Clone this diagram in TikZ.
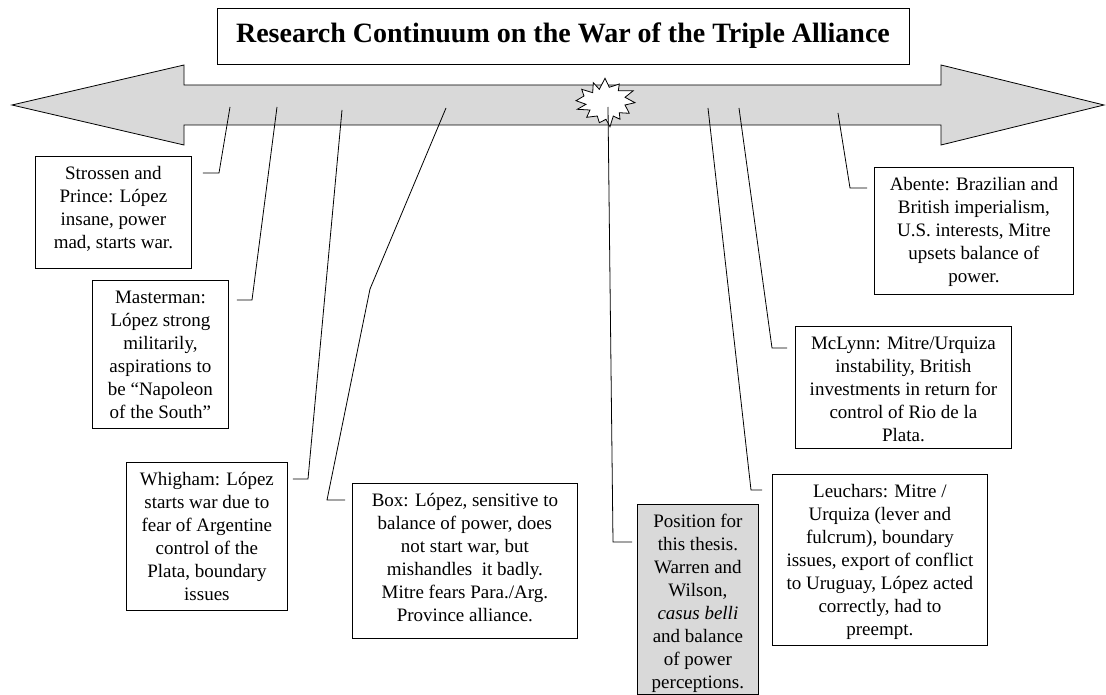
\documentclass[tikz,border=0pt]{standalone}
\usepackage{fontspec}
\setmainfont{Liberation Serif}
\usetikzlibrary{calc}
\definecolor{shaftgray}{RGB}{217,217,217}
\newcommand{\bxt}[3]{\parbox[c][#2][t]{#1}{\centering\rule{0pt}{23pt}#3}}
\tikzset{
  bx/.style={draw=black, line width=0.8pt, fill=white, inner sep=0pt, anchor=north west,
    font=\fontsize{19}{23}\selectfont},
  gbx/.style={bx, fill=shaftgray},
  leader/.style={draw=black, line width=0.8pt},
}
\begin{document}
\begin{tikzpicture}[x=1pt,y=-1pt]
\useasboundingbox (0,0) rectangle (1106,695);
\fill[white] (0,0) rectangle (1106,695);
% title
\node[draw=black, line width=0.8pt, minimum width=692pt, minimum height=56pt, inner sep=0pt,
  font=\fontsize{28}{32}\selectfont\bfseries] (title) at (563,36) {Research Continuum on the War of the Triple Alliance};
% double arrow
\draw[line width=0.8pt, fill=shaftgray] (12,105) -- (184,65) -- (184,85) -- (941,85) -- (941,65)
  -- (1104,105) -- (941,145) -- (941,125) -- (184,125) -- (184,145) -- cycle;
% explosion
\draw[line width=0.8pt, fill=white] (593.3,82.7) -- (599.3,89.3) -- (605,78.3) -- (609.3,87.3)
  -- (619.3,84) -- (618.3,90.7) -- (633.3,90.7) -- (625,97.3) -- (635,102.7) -- (625,105)
  -- (629.3,113.3) -- (619.3,112.7) -- (620,119.3) -- (613.3,116) -- (610,126.7) -- (606,119.3)
  -- (599.3,122.7) -- (597.3,116) -- (586.7,117.3) -- (590,110) -- (577.3,109.3) -- (586,104.3)
  -- (576,100.7) -- (584,96) -- (581.7,89.3) -- (592.7,92.7) -- cycle;
% boxes
\node[bx] (strossen) at (35,156) {\bxt{156pt}{112pt}{Strossen and\\Prince: López\\insane, power\\mad, starts war.}};
\node[bx] (masterman) at (92,280) {\bxt{136pt}{148pt}{Masterman:\\López strong\\militarily,\\aspirations to\\be “Napoleon\\of the South”}};
\node[bx] (whigham) at (126,462) {\bxt{161pt}{148pt}{Whigham: López\\starts war due to\\fear of Argentine\\control of the\\Plata, boundary\\issues}};
\node[bx] (boxb) at (352,483) {\bxt{225pt}{155pt}{Box: López, sensitive to\\balance of power, does\\not start war, but\\mishandles\ \ it badly.\\Mitre fears Para./Arg.\\Province alliance.}};
\node[gbx] (position) at (637,504) {\bxt{121pt}{190pt}{Position for\\this thesis.\\Warren and\\Wilson,\\\textit{casus belli}\\and balance\\of power\\perceptions.}};
\node[bx] (leuchars) at (772,474) {\bxt{215pt}{171pt}{Leuchars: Mitre /\\Urquiza (lever and\\fulcrum), boundary\\issues, export of conflict\\to Uruguay, López acted\\correctly, had to\\preempt.}};
\node[bx] (mclynn) at (795,326) {\bxt{216pt}{122pt}{McLynn: Mitre/Urquiza\\instability, British\\investments in return for\\control of Rio de la\\Plata.}};
\node[bx] (abente) at (874,167) {\bxt{199pt}{127pt}{Abente: Brazilian and\\British imperialism,\\U.S. interests, Mitre\\upsets balance of\\power.}};
% anchor points on the arrow
\coordinate (pS) at (230,107);
\coordinate (pM) at (277,107);
\coordinate (pW) at (342,110);
\coordinate (pB) at (446,108);
\coordinate (pP) at (608,107);
\coordinate (pL) at (708,108);
\coordinate (pC) at (739,108);
\coordinate (pA) at (838,113);
% kinks
\coordinate (kS) at (219,173);
\coordinate (kM) at (252,300);
\coordinate (kW) at (308,479);
\coordinate (kB1) at (370,289);
\coordinate (kB) at (327,500);
\coordinate (kP) at (613,542);
\coordinate (kL) at (751,490);
\coordinate (kC) at (772,348);
\coordinate (kA) at (850,188);
% leaders
\draw[leader] (pS) -- (kS) -- ($(strossen.east |- kS)+(11,0)$);
\draw[leader] (pM) -- (kM) -- ($(masterman.east |- kM)+(8,0)$);
\draw[leader] (pW) -- (kW) -- ($(whigham.east |- kW)+(5,0)$);
\draw[leader] (pB) -- (kB1) -- (kB) -- ($(boxb.west |- kB)+(-7,0)$);
\draw[leader] (pP) -- (kP) -- ($(position.west |- kP)+(-5,0)$);
\draw[leader] (pL) -- (kL) -- ($(leuchars.west |- kL)+(-10,0)$);
\draw[leader] (pC) -- (kC) -- ($(mclynn.west |- kC)+(-8,0)$);
\draw[leader] (pA) -- (kA) -- ($(abente.west |- kA)+(-7,0)$);
\end{tikzpicture}
\end{document}
